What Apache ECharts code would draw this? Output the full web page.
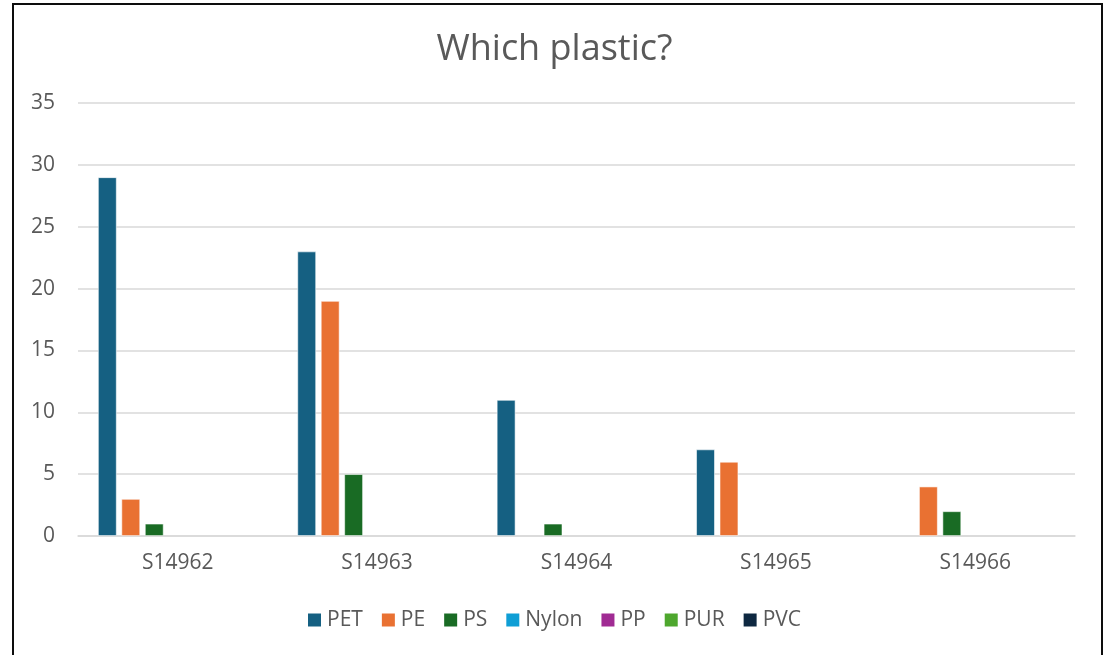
<!DOCTYPE html>
<html>
<head>
<meta charset="utf-8">
<title>Which plastic?</title>
<script src="https://cdn.jsdelivr.net/npm/echarts@6/dist/echarts.min.js"></script>
<style>
  html, body { margin: 0; padding: 0; background: #fff; }
  #chart { width: 1109px; height: 655px; }
</style>
</head>
<body>
<div id="chart"></div>
<script>
// Sample identifiers along the x axis
const categories = ['S14962', 'S14963', 'S14964', 'S14965', 'S14966'];

// Particle counts per plastic type, one value per sample
const pet   = [29, 23, 11, 7, 0];
const pe    = [3, 19, 0, 6, 4];
const ps    = [1, 5, 1, 0, 2];
const nylon = [0, 0, 0, 0, 0];
const pp    = [0, 0, 0, 0, 0];
const pur   = [0, 0, 0, 0, 0];
const pvc   = [0, 0, 0, 0, 0];

const seriesNames = ['PET', 'PE', 'PS', 'Nylon', 'PP', 'PUR', 'PVC'];
const seriesData = [pet, pe, ps, nylon, pp, pur, pvc];
const seriesColors = ['#156082', '#E97132', '#196B24', '#0F9ED5', '#A02B93', '#4EA72E', '#0E2841'];

const yTicks = { min: 0, max: 35, interval: 5 };

const FONT = '"Open Sans", "Noto Sans", sans-serif';
const TEXT = '#595959';

const chart = echarts.init(document.getElementById('chart'), null, { renderer: 'canvas' });

chart.setOption({
  animation: false,
  backgroundColor: '#ffffff',
  textStyle: { fontFamily: FONT },
  title: {
    text: 'Which plastic?',
    left: 'center',
    top: 30,
    padding: 0,
    textStyle: { fontFamily: FONT, fontSize: 36, fontWeight: 'normal', color: TEXT, lineHeight: 40 }
  },
  legend: {
    top: 608,
    left: 'center',
    itemWidth: 13,
    itemHeight: 13,
    itemGap: 19,
    icon: 'rect',
    padding: 0,
    textStyle: { fontFamily: FONT, fontSize: 21, color: TEXT, lineHeight: 24, padding: [0, 0, 0, 1] },
    data: seriesNames
  },
  grid: { left: 78, right: 34, top: 103, bottom: 119, containLabel: false },
  xAxis: {
    type: 'category',
    data: categories,
    axisLine: { lineStyle: { color: '#d9d9d9', width: 1.5 } },
    axisTick: { show: false },
    axisLabel: { fontFamily: FONT, fontSize: 21, color: TEXT, margin: 17 }
  },
  yAxis: {
    type: 'value',
    min: yTicks.min,
    max: yTicks.max,
    interval: yTicks.interval,
    axisLine: { show: false },
    axisTick: { show: false },
    axisLabel: { fontFamily: FONT, fontSize: 21, color: TEXT, margin: 23 },
    splitLine: { lineStyle: { color: '#d9d9d9', width: 1.5 } }
  },
  series: seriesNames.map((name, i) => ({
    name,
    type: 'bar',
    data: seriesData[i].map(v => ({
      value: v,
      itemStyle: { borderWidth: v ? 0.8 : 0 }
    })),
    barGap: '25%',
    barCategoryGap: '20%',
    itemStyle: { color: seriesColors[i], borderColor: 'rgba(255,255,255,0.7)' }
  })),
  graphic: [{
    type: 'rect',
    shape: { x: 13, y: 4, width: 1089, height: 700 },
    style: { fill: 'none', stroke: '#0d0d0d', lineWidth: 2 },
    silent: true,
    z: 100
  }]
});
</script>
</body>
</html>
